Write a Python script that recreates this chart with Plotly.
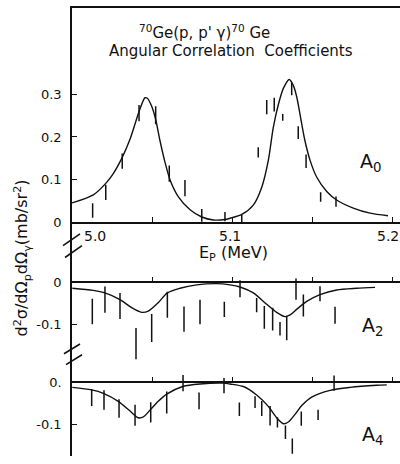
import plotly.graph_objects as go

W, H = 400, 464

# ---------------- data ----------------
# A0 measured points (E_p in MeV)
a0_e = [5.0129, 5.0211, 5.0314, 5.0419, 5.0523, 5.0608, 5.0706, 5.0811, 5.0956, 5.1061,
        5.1164, 5.1217, 5.1264, 5.1317, 5.1373, 5.1414, 5.1463, 5.1554, 5.1650]
a0_val = [0.027, 0.070, 0.143, 0.256, 0.251, 0.114, 0.080, 0.016, 0.013, 0.008,
          0.164, 0.270, 0.276, 0.246, 0.313, 0.210, 0.143, 0.059, 0.048]
a0_err = [0.017, 0.018, 0.018, 0.019, 0.021, 0.019, 0.019, 0.015, 0.011, 0.009,
          0.012, 0.017, 0.016, 0.008, 0.015, 0.015, 0.016, 0.011, 0.012]

# A0 fitted curve
a0_fit_e = [5.0000, 5.0133, 5.0211, 5.0258, 5.0314, 5.0363, 5.0419, 5.0446, 5.0456, 5.0471,
            5.0498, 5.0523, 5.0550, 5.0581, 5.0613, 5.0664, 5.0738, 5.0811, 5.0883, 5.0956,
            5.0988, 5.1061, 5.1133, 5.1186, 5.1227, 5.1258, 5.1289, 5.1321, 5.1358, 5.1383,
            5.1404, 5.1429, 5.1456, 5.1488, 5.1529, 5.1592, 5.1654, 5.1758, 5.1863, 5.1975]
a0_fit = [0.045, 0.064, 0.091, 0.114, 0.152, 0.195, 0.260, 0.286, 0.292, 0.291,
          0.272, 0.241, 0.191, 0.141, 0.099, 0.060, 0.029, 0.012, 0.005, 0.006,
          0.009, 0.018, 0.040, 0.082, 0.145, 0.222, 0.275, 0.314, 0.335, 0.321,
          0.295, 0.245, 0.191, 0.145, 0.106, 0.072, 0.052, 0.033, 0.021, 0.015]

# A2 measured points
a2_e = [5.0127, 5.0206, 5.0300, 5.0400, 5.0498, 5.0596, 5.0700, 5.0800, 5.0952, 5.1050,
        5.1154, 5.1202, 5.1254, 5.1300, 5.1342, 5.1400, 5.1446, 5.1550, 5.1644]
a2_val = [-0.069, -0.041, -0.056, -0.145, -0.108, -0.053, -0.087, -0.070, -0.064, -0.015,
          -0.054, -0.083, -0.087, -0.110, -0.108, -0.016, -0.055, -0.027, -0.078]
a2_err = [0.030, 0.031, 0.031, 0.037, 0.033, 0.031, 0.030, 0.029, 0.018, 0.020,
          0.017, 0.027, 0.027, 0.016, 0.029, 0.025, 0.026, 0.018, 0.020]

a2_fit_e = [5.0002, 5.0133, 5.0206, 5.0300, 5.0373, 5.0436, 5.0477, 5.0539, 5.0596, 5.0675,
            5.0779, 5.0904, 5.0988, 5.1050, 5.1133, 5.1217, 5.1279, 5.1331, 5.1363, 5.1404,
            5.1467, 5.1550, 5.1654, 5.1779, 5.1894]
a2_fit = [-0.014, -0.019, -0.025, -0.041, -0.060, -0.071, -0.068, -0.048, -0.025, -0.014,
          -0.006, -0.003, -0.006, -0.011, -0.025, -0.052, -0.071, -0.081, -0.077, -0.064,
          -0.045, -0.029, -0.018, -0.014, -0.012]

# A4 measured points
a4_e = [5.0123, 5.0200, 5.0294, 5.0394, 5.0492, 5.0592, 5.0694, 5.0794, 5.0950, 5.1046,
        5.1144, 5.1186, 5.1238, 5.1284, 5.1334, 5.1377, 5.1433, 5.1538, 5.1638]
a4_val = [-0.036, -0.042, -0.062, -0.078, -0.071, -0.048, -0.002, -0.044, -0.008, -0.064,
          -0.047, -0.062, -0.079, -0.095, -0.118, -0.151, -0.086, -0.077, -0.002]
a4_err = [0.020, 0.023, 0.022, 0.025, 0.024, 0.026, 0.019, 0.020, 0.018, 0.016,
          0.014, 0.018, 0.023, 0.012, 0.016, 0.018, 0.017, 0.012, 0.018]

a4_fit_e = [5.0002, 5.0123, 5.0196, 5.0289, 5.0363, 5.0414, 5.0446, 5.0492, 5.0539, 5.0592,
            5.0692, 5.0800, 5.0946, 5.0988, 5.1071, 5.1154, 5.1227, 5.1279, 5.1321, 5.1352,
            5.1394, 5.1436, 5.1498, 5.1613, 5.1738, 5.1904, 5.1967]
a4_fit = [-0.012, -0.018, -0.026, -0.045, -0.068, -0.084, -0.082, -0.064, -0.045, -0.028,
          -0.010, -0.004, -0.002, -0.004, -0.010, -0.030, -0.057, -0.084, -0.098, -0.094,
          -0.076, -0.055, -0.035, -0.019, -0.012, -0.007, -0.006]

# axis ticks / labels
x_minor_ticks = [5.05, 5.1, 5.15, 5.2]
x_label_vals = [5.0, 5.1, 5.2]
x_label_text = ["5.0", "5.1", "5.2"]
y0_ticks = [0, 0.1, 0.2, 0.3]
y0_text = ["0", "0.1", "0.2", "0.3"]
y2_ticks = [0, -0.1]
y2_text = ["0", "-0.1"]
y4_ticks = [0, -0.1]
y4_text = ["0.", "-0.1"]

# ---------------- figure ----------------
FONT = "DejaVu Sans"
INK = "#111111"


def py(p):  # pixel-from-top -> paper fraction
    return 1 - p / H


def px(p):
    return p / W


fig = go.Figure()


def add_panel(e, v, err, fe, fv, xa, ya):
    fig.add_trace(go.Scatter(
        x=e, y=v, mode="markers", xaxis=xa, yaxis=ya,
        marker=dict(size=1, color=INK, opacity=0),
        error_y=dict(type="data", array=err, visible=True, width=0,
                     thickness=1.5, color=INK),
        showlegend=False, hoverinfo="skip"))
    fig.add_trace(go.Scatter(
        x=fe, y=fv, mode="lines", xaxis=xa, yaxis=ya,
        line=dict(color=INK, width=1.4, shape="spline", smoothing=0.8),
        showlegend=False, hoverinfo="skip"))


add_panel(a0_e, a0_val, a0_err, a0_fit_e, a0_fit, "x", "y")
add_panel(a2_e, a2_val, a2_err, a2_fit_e, a2_fit, "x2", "y2")
add_panel(a4_e, a4_val, a4_err, a4_fit_e, a4_fit, "x3", "y3")

X_LEFT = 72
XDOM = [px(X_LEFT), 1.0]
XRANGE = [5.0, 5.0 + (W - X_LEFT) / 1600]

common_x = dict(range=XRANGE, domain=XDOM, showline=True, linecolor=INK, linewidth=1.5,
                ticks="inside", ticklen=5, tickwidth=1.3, tickcolor=INK,
                tickvals=x_minor_ticks, showticklabels=False,
                showgrid=False, zeroline=False)

common_y = dict(showline=True, linecolor=INK, linewidth=1.5, ticks="inside", ticklen=5,
                tickwidth=1.3, tickcolor=INK, showgrid=False, zeroline=False,
                tickfont=dict(family=FONT, size=13, color=INK), ticklabelstandoff=6)

S0 = 433.3
S2 = 430.0
fig.update_layout(
    width=W, height=H,
    margin=dict(l=0, r=0, t=0, b=0),
    paper_bgcolor="white", plot_bgcolor="white",
    xaxis=dict(**common_x, anchor="y", mirror=True),
    xaxis2=dict(**common_x, anchor="free", position=py(287.3), matches="x"),
    xaxis3=dict(**common_x, anchor="free", position=py(389), matches="x"),
    yaxis=dict(**common_y, domain=[py(226), py(8)], range=[0, (226 - 8) / S0],
               anchor="x", tickvals=y0_ticks, ticktext=y0_text),
    yaxis2=dict(**common_y, domain=[py(372), py(226)],
                range=[-(372 - 287.3) / S2, (287.3 - 226) / S2],
                anchor="x2", tickvals=y2_ticks, ticktext=y2_text),
    yaxis3=dict(**common_y, domain=[0, py(372)],
                range=[-(464 - 389) / S2, (389 - 372) / S2],
                anchor="x3", tickvals=y4_ticks, ticktext=y4_text),
)

# x tick labels of the A0 panel (5.0 label sits right of the axis corner)
label_shift = [23, -2, -4]
for v, t, s in zip(x_label_vals, x_label_text, label_shift):
    fig.add_annotation(text=t, x=v, y=0, xref="x", yref="y", xshift=s, yshift=-14,
                       xanchor="center", yanchor="middle", showarrow=False,
                       font=dict(family=FONT, size=14, color=INK))

# axis-break marks on the left axis
breaks = [((63, 250), (80, 238)), ((65, 262), (82, 250)),
          ((64, 360), (80, 350)), ((66, 371), (82, 361))]
for (xa0, ya0), (xa1, ya1) in breaks:
    fig.add_shape(type="line", xref="paper", yref="paper",
                  x0=px(xa0), y0=py(ya0), x1=px(xa1), y1=py(ya1),
                  line=dict(color=INK, width=1.6))

ann = [
    dict(text="<sup>70</sup>Ge(p, p' γ)<sup>70</sup> Ge", x=px(205), y=py(33), size=15),
    dict(text="Angular Correlation  Coefficients", x=px(231), y=py(52), size=15),
    dict(text="E<sub>P</sub> (MeV)", x=px(233), y=py(258), size=16),
    dict(text="A<sub>0</sub>", x=px(370), y=py(165), size=19),
    dict(text="A<sub>2</sub>", x=px(372), y=py(332), size=19),
    dict(text="A<sub>4</sub>", x=px(372), y=py(443), size=19),
]
for a in ann:
    fig.add_annotation(text=a["text"], x=a["x"], y=a["y"], xref="paper", yref="paper",
                       xanchor="center", yanchor="middle", showarrow=False,
                       font=dict(family=FONT, size=a["size"], color=INK))

fig.add_annotation(text="d<sup>2</sup>σ/dΩ<sub>p</sub>dΩ<sub>γ</sub>(mb/sr<sup>2</sup>)",
                   x=px(22), y=py(263), xref="paper", yref="paper", textangle=-90,
                   xanchor="center", yanchor="middle", showarrow=False,
                   font=dict(family=FONT, size=16, color=INK))

fig.write_html("out.html", config={"displayModeBar": False},
               post_script="document.body.style.margin='0px';")
